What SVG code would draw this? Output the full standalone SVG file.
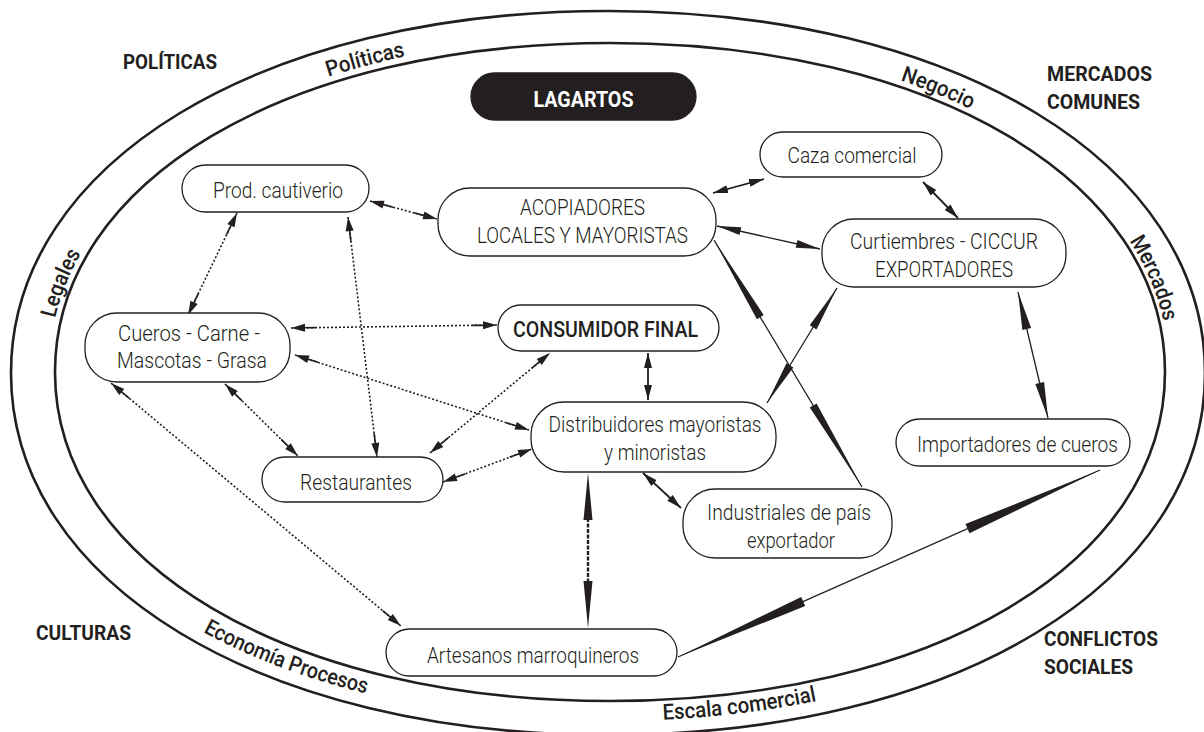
<svg xmlns="http://www.w3.org/2000/svg" width="1204" height="732" viewBox="0 0 1204 732">
  <style>
    .ring { fill: none; stroke: #231f20; stroke-width: 2.6; }
    .box { fill: #fff; stroke: #231f20; stroke-width: 1.3; }
    .box-dark { fill: #231f20; stroke: #231f20; stroke-width: 1.3; }
    .t { font-family: Roboto, "Liberation Sans", sans-serif; font-weight: 300; font-size: 21.5px; fill: #231f20; text-anchor: middle; }
    .tm { font-family: Roboto, "Liberation Sans", sans-serif; font-weight: 500; font-size: 22px; fill: #231f20; text-anchor: middle; }
    .tw { font-family: Roboto, "Liberation Sans", sans-serif; font-weight: 700; font-size: 22px; fill: #fff; text-anchor: middle; }
    .corner { font-family: Roboto, "Liberation Sans", sans-serif; font-weight: 700; font-size: 21px; fill: #231f20; }
    .band { font-family: Roboto, "Liberation Sans", sans-serif; font-weight: 500; font-size: 22px; fill: #231f20; text-anchor: middle; }
    .dot { fill: none; stroke: #231f20; stroke-width: 1.6; stroke-dasharray: 2 2; marker-start: url(#dh); marker-end: url(#dh); }
    .sol { fill: none; stroke: #231f20; stroke-width: 1.8; marker-start: url(#sh); marker-end: url(#sh); }
    .thin { fill: none; stroke: #231f20; stroke-width: 1.3; }
    .wedge { fill: #231f20; stroke: none; }
  </style>
  <defs>
    <!-- dotted-connector head: short solid shaft plus slender triangle -->
    <marker id="dh" viewBox="0 0 24 10" refX="24" refY="5" markerWidth="24" markerHeight="10" markerUnits="userSpaceOnUse" orient="auto-start-reverse">
      <path d="M0,4.2 H11 V5.8 H0 Z M10,1 L24,5 L10,9 Z" fill="#231f20"/>
    </marker>
    <!-- solid-connector head -->
    <marker id="sh" viewBox="0 0 15 10" refX="15" refY="5" markerWidth="15" markerHeight="10" markerUnits="userSpaceOnUse" orient="auto-start-reverse">
      <path d="M0,1 L15,5 L0,9 Z" fill="#231f20"/>
    </marker>
    <!-- baselines for the ring labels -->
    <path id="bandCW" d="M49,372 C49,177.1 284.2,36 609,36 C933.8,36 1169,177.1 1169,372 C1169,566.9 933.8,708 609,708 C284.2,708 49,566.9 49,372 Z"/>
    <path id="bandCCW" d="M20,372 C20,574.4 267,721 608,721 C949,721 1196,574.4 1196,372 C1196,169.6 949,23 608,23 C267,23 20,169.6 20,372 Z"/>
  </defs>

  <g id="rings">
    <path class="ring" d="M11,373 C11,163 261.7,11 608,11 C954.3,11 1205,163 1205,373 C1205,583 954.3,735 608,735 C261.7,735 11,583 11,373 Z"/>
    <path class="ring" d="M55,372 C55,181.2 288.1,43 610,43 C931.9,43 1165,181.2 1165,372 C1165,562.8 931.9,701 610,701 C288.1,701 55,562.8 55,372 Z"/>
    <text class="band" textLength="70" lengthAdjust="spacingAndGlyphs"><textPath href="#bandCW" startOffset="3.1%">Legales</textPath></text>
    <text class="band" textLength="80" lengthAdjust="spacingAndGlyphs"><textPath href="#bandCW" startOffset="16.5%">Políticas</textPath></text>
    <text class="band" textLength="76" lengthAdjust="spacingAndGlyphs"><textPath href="#bandCW" startOffset="36.6%">Negocio</textPath></text>
    <text class="band" textLength="88" lengthAdjust="spacingAndGlyphs"><textPath href="#bandCW" startOffset="46.7%">Mercados</textPath></text>
    <text class="band" textLength="175" lengthAdjust="spacingAndGlyphs"><textPath href="#bandCCW" startOffset="14%">Economía Procesos</textPath></text>
    <text class="band" textLength="155" lengthAdjust="spacingAndGlyphs"><textPath href="#bandCCW" startOffset="29.4%">Escala comercial</textPath></text>
  </g>

  <g id="corner-labels">
    <text class="corner" x="123" y="69" textLength="94" lengthAdjust="spacingAndGlyphs">POLÍTICAS</text>
    <text class="corner" x="1047" y="81" textLength="105" lengthAdjust="spacingAndGlyphs">MERCADOS</text>
    <text class="corner" x="1047" y="109" textLength="93" lengthAdjust="spacingAndGlyphs">COMUNES</text>
    <text class="corner" x="36" y="640" textLength="95" lengthAdjust="spacingAndGlyphs">CULTURAS</text>
    <text class="corner" x="1044" y="646" textLength="114" lengthAdjust="spacingAndGlyphs">CONFLICTOS</text>
    <text class="corner" x="1044" y="674" textLength="89" lengthAdjust="spacingAndGlyphs">SOCIALES</text>
  </g>

  <g id="connectors">
    <!-- dotted links -->
    <line class="dot" x1="370" y1="201" x2="437" y2="219"/>
    <line class="dot" x1="237" y1="213" x2="188" y2="315"/>
    <line class="dot" x1="348" y1="217" x2="377" y2="457"/>
    <line class="dot" x1="291" y1="328" x2="497" y2="325"/>
    <line class="dot" x1="295" y1="355" x2="529" y2="430"/>
    <line class="dot" x1="225" y1="384" x2="298" y2="456"/>
    <line class="dot" x1="111" y1="383" x2="401" y2="626"/>
    <line class="dot" x1="430" y1="453" x2="550" y2="353"/>
    <line class="dot" x1="443" y1="482" x2="532" y2="449"/>
    <!-- solid links -->
    <line class="sol" x1="713" y1="193" x2="764" y2="179"/>
    <line class="sol" x1="923" y1="182" x2="958" y2="218"/>
    <line class="sol" x1="648" y1="353" x2="648" y2="400"/>
    <line class="sol" x1="643" y1="473" x2="681" y2="508"/>
    <!-- acopiadores / curtiembres -->
    <line class="thin" x1="717" y1="226" x2="820" y2="249" stroke-width="2"/>
    <polygon class="wedge" points="717,226 739.5,235.1 741.3,227.3"/>
    <polygon class="wedge" points="820,249 795.7,247.7 797.5,239.9"/>
    <!-- acopiadores / industriales -->
    <line class="thin" x1="714" y1="240" x2="862" y2="487"/>
    <polygon class="wedge" points="714,240 756.9,319.3 763.7,315.1"/>
    <polygon class="wedge" points="862,487 809.8,407.6 816.6,403.4"/>
    <!-- curtiembres / distribuidores -->
    <line class="thin" x1="837" y1="288" x2="767" y2="403"/>
    <polygon class="wedge" points="837,288 809.7,325.2 816.5,329.4"/>
    <polygon class="wedge" points="767,403 786.5,363.3 793.3,367.5"/>
    <!-- curtiembres / importadores -->
    <line class="thin" x1="1018" y1="292" x2="1048" y2="418"/>
    <polygon class="wedge" points="1018,292 1022.4,330 1031.2,328"/>
    <polygon class="wedge" points="1048,418 1035.3,384 1044.1,382"/>
    <!-- distribuidores / artesanos -->
    <line x1="588" y1="518" x2="588" y2="583" stroke="#231f20" stroke-width="2.4" stroke-dasharray="4 1.5"/>
    <polygon class="wedge" points="588,473 583.5,520 592.5,520"/>
    <polygon class="wedge" points="588,628 583.5,581 592.5,581"/>
    <!-- artesanos / importadores -->
    <line class="thin" x1="678" y1="657" x2="1100" y2="470"/>
    <polygon class="wedge" points="678,657 805.2,606.1 801.2,596.9"/>
    <polygon class="wedge" points="1100,470 969.5,533.3 965.5,524.1"/>
  </g>

  <g id="node-lagartos">
    <rect class="box-dark" x="471" y="73" width="225" height="47" rx="23.5"/>
    <text class="tw" x="583.5" y="107" textLength="100" lengthAdjust="spacingAndGlyphs">LAGARTOS</text>
  </g>
  <g id="node-prod-cautiverio">
    <rect class="box" x="182" y="165" width="187" height="47" rx="23.5"/>
    <text class="t" x="278" y="198" textLength="130" lengthAdjust="spacingAndGlyphs">Prod. cautiverio</text>
  </g>
  <g id="node-acopiadores">
    <rect class="box" x="438" y="188" width="278" height="68" rx="32"/>
    <text class="t" x="582.5" y="215" textLength="125" lengthAdjust="spacingAndGlyphs">ACOPIADORES</text>
    <text class="t" x="582.5" y="243" textLength="211" lengthAdjust="spacingAndGlyphs">LOCALES Y MAYORISTAS</text>
  </g>
  <g id="node-caza">
    <rect class="box" x="760" y="132" width="182" height="45" rx="22.5"/>
    <text class="t" x="852" y="163" textLength="129" lengthAdjust="spacingAndGlyphs">Caza comercial</text>
  </g>
  <g id="node-curtiembres">
    <rect class="box" x="822" y="219" width="244" height="68" rx="32"/>
    <text class="t" x="944" y="249" textLength="188" lengthAdjust="spacingAndGlyphs">Curtiembres - CICCUR</text>
    <text class="t" x="944" y="277" textLength="138" lengthAdjust="spacingAndGlyphs">EXPORTADORES</text>
  </g>
  <g id="node-cueros">
    <rect class="box" x="85" y="313" width="205" height="69" rx="32"/>
    <text class="t" x="189" y="341" textLength="142" lengthAdjust="spacingAndGlyphs">Cueros - Carne -</text>
    <text class="t" x="192" y="368" textLength="150" lengthAdjust="spacingAndGlyphs">Mascotas - Grasa</text>
  </g>
  <g id="node-consumidor">
    <rect class="box" x="498" y="305" width="221" height="46" rx="23"/>
    <text class="tm" x="605.5" y="337" textLength="185" lengthAdjust="spacingAndGlyphs">CONSUMIDOR FINAL</text>
  </g>
  <g id="node-distribuidores">
    <rect class="box" x="531" y="402" width="245" height="70" rx="33"/>
    <text class="t" x="655" y="432" textLength="213" lengthAdjust="spacingAndGlyphs">Distribuidores mayoristas</text>
    <text class="t" x="655" y="460" textLength="102" lengthAdjust="spacingAndGlyphs">y minoristas</text>
  </g>
  <g id="node-restaurantes">
    <rect class="box" x="262" y="457" width="181" height="45" rx="22.5"/>
    <text class="t" x="356" y="490" textLength="112" lengthAdjust="spacingAndGlyphs">Restaurantes</text>
  </g>
  <g id="node-industriales">
    <rect class="box" x="683" y="489" width="209" height="69" rx="32"/>
    <text class="t" x="789" y="520" textLength="164" lengthAdjust="spacingAndGlyphs">Industriales de país</text>
    <text class="t" x="791" y="548" textLength="88" lengthAdjust="spacingAndGlyphs">exportador</text>
  </g>
  <g id="node-importadores">
    <rect class="box" x="896" y="419" width="234" height="47" rx="23.5"/>
    <text class="t" x="1017.5" y="452" textLength="201" lengthAdjust="spacingAndGlyphs">Importadores de cueros</text>
  </g>
  <g id="node-artesanos">
    <rect class="box" x="386" y="629" width="291" height="47" rx="23.5"/>
    <text class="t" x="533" y="663" textLength="212" lengthAdjust="spacingAndGlyphs">Artesanos marroquineros</text>
  </g>
</svg>
